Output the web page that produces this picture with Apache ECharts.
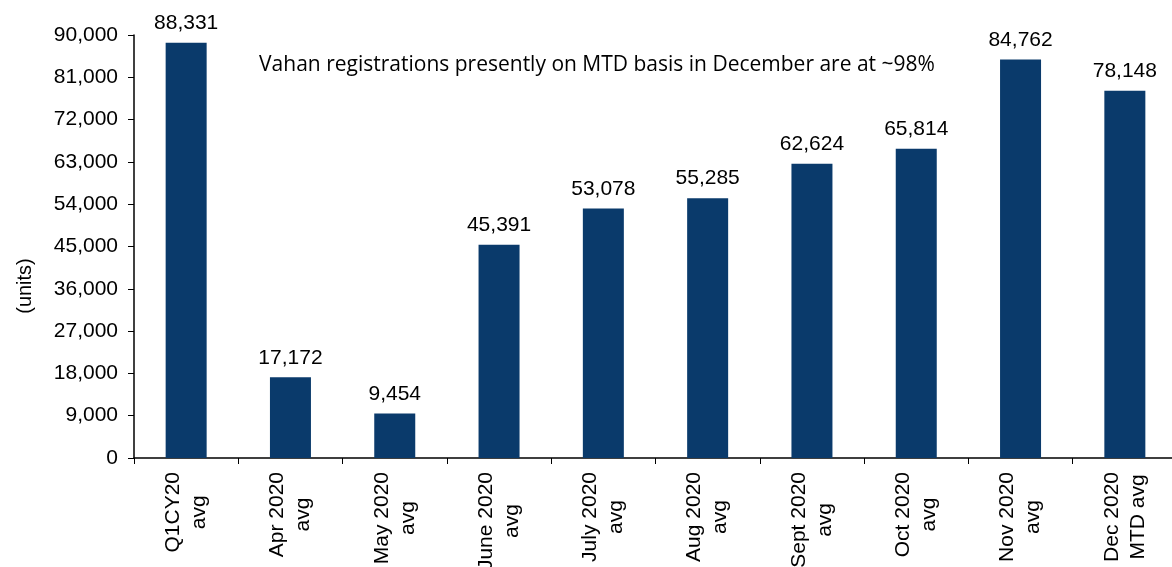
<!DOCTYPE html>
<html lang="en">
<head>
  <meta charset="UTF-8">
  <script src="https://cdn.jsdelivr.net/npm/echarts@6/dist/echarts.min.js"></script>
  <title>Vahan registrations</title>
  <style>
    html, body { margin: 0; padding: 0; background: #fff; }
    #chart { width: 1172px; height: 567px; }
  </style>
</head>
<body>
<div id="chart"></div>
<script>
  const categories = [
    'Q1CY20\navg', 'Apr 2020\navg', 'May 2020\navg', 'June 2020\navg', 'July 2020\navg',
    'Aug 2020\navg', 'Sept 2020\navg', 'Oct 2020\navg', 'Nov 2020\navg', 'Dec 2020\nMTD avg'
  ];
  const registrations = [88331, 17172, 9454, 45391, 53078, 55285, 62624, 65814, 84762, 78148];
  const note = 'Vahan registrations presently on MTD basis in December are at ~98%';
  const unitLabel = '(units)';

  const font = 'Liberation Sans, Arial, sans-serif';
  const chart = echarts.init(document.getElementById('chart'));

  chart.setOption({
    animation: false,
    grid: { left: 134, right: -5, top: 35, bottom: 109, containLabel: false, outerBoundsMode: 'none' },
    title: {
      text: note,
      left: 592,
      top: 50,
      textAlign: 'center',
      textStyle: { fontFamily: 'Open Sans, sans-serif', fontSize: 21, fontWeight: 'normal', color: '#000' }
    },
    graphic: [{
      type: 'text',
      x: 25,
      y: 286,
      rotation: Math.PI / 2,
      style: {
        text: unitLabel,
        font: '20px ' + font,
        fill: '#000',
        align: 'center',
        verticalAlign: 'middle'
      }
    }],
    xAxis: {
      type: 'category',
      data: categories,
      axisLine: { lineStyle: { color: '#000', width: 1.5 } },
      axisTick: { show: true, length: 6, lineStyle: { color: '#000' } },
      axisLabel: {
        rotate: 90,
        margin: 14,
        interval: 0,
        color: '#000',
        fontFamily: font,
        fontSize: 21,
        lineHeight: 26,
        formatter: v => v.split('\n').map(s => '{c|' + s + '}').join('\n'),
        rich: { c: { align: 'center', fontFamily: font, fontSize: 21, lineHeight: 26, color: '#000' } }
      }
    },
    yAxis: {
      type: 'value',
      min: 0,
      max: 90000,
      interval: 9000,
      axisLine: { show: true, lineStyle: { color: '#000', width: 1.5 } },
      axisTick: { show: true, length: 6, lineStyle: { color: '#000' } },
      splitLine: { show: false },
      axisLabel: {
        margin: 16,
        color: '#000',
        fontFamily: font,
        fontSize: 21,
        formatter: v => v.toLocaleString('en-US')
      }
    },
    series: [{
      type: 'bar',
      data: registrations,
      barWidth: 41,
      itemStyle: { color: '#0a3a6b' },
      label: {
        show: true,
        position: 'top',
        distance: 9,
        color: '#000',
        fontFamily: font,
        fontSize: 21,
        formatter: p => p.value.toLocaleString('en-US')
      }
    }]
  });
</script>
</body>
</html>
